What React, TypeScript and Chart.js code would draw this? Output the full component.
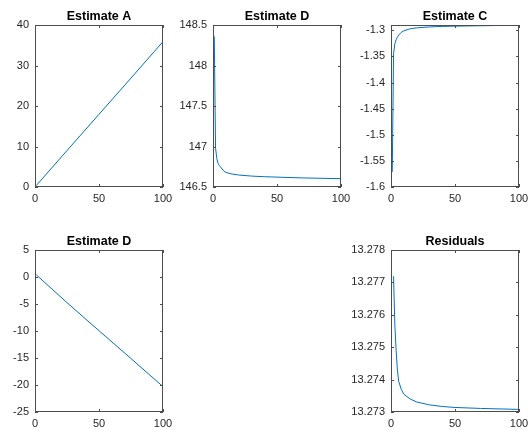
import React, { useEffect, useRef } from "react";
import { Chart, registerables } from "chart.js";

Chart.register(...registerables);

// ---------- data ----------
const xTicks = [0, 50, 100];

const titleA = "Estimate A";
const xA = [1, 25, 50, 75, 100];
const yA = [0.36, 9.0, 17.95, 26.9, 35.9];
const yTicksA = [0, 10, 20, 30, 40];

const titleD1 = "Estimate D";
const xD1 = [1, 2, 3, 4, 5, 6, 8, 10, 15, 20, 30, 40, 50, 70, 100];
const yD1 = [148.36, 146.98, 146.85, 146.79, 146.765, 146.745, 146.705, 146.68, 146.66, 146.648, 146.635, 146.627, 146.622, 146.612, 146.603];
const yTicksD1 = [146.5, 147, 147.5, 148, 148.5];

const titleC = "Estimate C";
const xC = [1, 2, 3, 4, 5, 6, 8, 10, 15, 20, 30, 40, 50, 70, 100];
const yC = [-1.571, -1.345, -1.326, -1.318, -1.313, -1.309, -1.304, -1.301, -1.297, -1.2953, -1.2935, -1.2925, -1.292, -1.2912, -1.2903];
const yTicksC = [-1.6, -1.55, -1.5, -1.45, -1.4, -1.35, -1.3];

const titleD2 = "Estimate D";
const xD2 = [1, 25, 50, 75, 100];
const yD2 = [0.4, -4.75, -9.95, -15.1, -20.3];
const yTicksD2 = [-25, -20, -15, -10, -5, 0, 5];

const titleR = "Residuals";
const xR = [2, 3, 4, 5, 6, 8, 10, 15, 20, 30, 40, 50, 70, 100];
const yR = [13.27719, 13.2757, 13.2749, 13.2743, 13.27395, 13.2737, 13.27355, 13.2734, 13.27331, 13.27322, 13.27317, 13.27314, 13.27311, 13.27308];
const yTicksR = [13.273, 13.274, 13.275, 13.276, 13.277, 13.278];

// ---------- layout ----------
const PADL = 60;
const PADT = 25;
const PADR = 16;
const PADB = 28;
const FONT = "'Liberation Sans', Arial, Helvetica, sans-serif";

type Panel = {
  title: string;
  x: number[];
  y: number[];
  yMin: number;
  yMax: number;
  yTicks: number[];
  left: number;
  top: number;
  w: number;
  h: number;
};

const panels: Panel[] = [
  { title: titleA, x: xA, y: yA, yMin: 0, yMax: 40, yTicks: yTicksA, left: 35, top: 25, w: 128, h: 162 },
  { title: titleD1, x: xD1, y: yD1, yMin: 146.5, yMax: 148.5, yTicks: yTicksD1, left: 213, top: 25, w: 128, h: 162 },
  { title: titleC, x: xC, y: yC, yMin: -1.6, yMax: -1.2898, yTicks: yTicksC, left: 391, top: 25, w: 128, h: 162 },
  { title: titleD2, x: xD2, y: yD2, yMin: -25, yMax: 5, yTicks: yTicksD2, left: 35, top: 250, w: 128, h: 162 },
  { title: titleR, x: xR, y: yR, yMin: 13.273, yMax: 13.278, yTicks: yTicksR, left: 391, top: 250, w: 128, h: 162 },
];

const fmt = (v: any) => String(Math.round(Number(v) * 1e6) / 1e6);

function boxPlugin(title: string) {
  return {
    id: "matlabBox",
    afterDraw(chart: any) {
      const { ctx, chartArea } = chart;
      const { left, right, top, bottom } = chartArea;
      const xs = chart.scales.x;
      const ys = chart.scales.y;
      ctx.save();
      ctx.strokeStyle = "#4d4d4d";
      ctx.lineWidth = 1;
      ctx.strokeRect(left + 0.5, top + 0.5, right - left - 1, bottom - top - 1);
      ctx.beginPath();
      const tl = 3;
      xs.ticks.forEach((t: any) => {
        const px = Math.round(xs.getPixelForValue(t.value)) + 0.5;
        ctx.moveTo(px, bottom);
        ctx.lineTo(px, bottom - tl);
        ctx.moveTo(px, top);
        ctx.lineTo(px, top + tl);
      });
      ys.ticks.forEach((t: any) => {
        const py = Math.round(ys.getPixelForValue(t.value)) + 0.5;
        ctx.moveTo(left, py);
        ctx.lineTo(left + tl, py);
        ctx.moveTo(right, py);
        ctx.lineTo(right - tl, py);
      });
      ctx.stroke();
      ctx.fillStyle = "#000000";
      ctx.font = `bold 12.5px ${FONT}`;
      ctx.textAlign = "center";
      ctx.textBaseline = "alphabetic";
      ctx.fillText(title, (left + right) / 2, top - 5);
      ctx.restore();
    },
  };
}

function PanelChart({ p }: { p: Panel }) {
  const ref = useRef<HTMLCanvasElement | null>(null);
  useEffect(() => {
    if (!ref.current) return;
    const tickFont = { family: FONT, size: 11 };
    const chart = new Chart(ref.current, {
      type: "line",
      data: {
        datasets: [
          {
            data: p.x.map((xv, i) => ({ x: xv, y: p.y[i] })),
            borderColor: "#0072BD",
            borderWidth: 1,
            pointRadius: 0,
            tension: 0,
            fill: false,
          },
        ],
      },
      options: {
        animation: false,
        responsive: false,
        events: [],
        layout: { padding: { left: 0, right: PADR, top: PADT, bottom: 0 } },
        plugins: {
          legend: { display: false },
          tooltip: { enabled: false },
          title: { display: false },
        },
        scales: {
          x: {
            type: "linear",
            min: 0,
            max: 100,
            afterBuildTicks: (s: any) => {
              s.ticks = xTicks.map((v) => ({ value: v }));
            },
            afterFit: (s: any) => {
              s.height = PADB;
            },
            grid: { display: false, drawTicks: false },
            border: { display: false },
            ticks: {
              padding: 5,
              font: tickFont,
              color: "#262626",
              maxRotation: 0,
              autoSkip: false,
              callback: fmt,
            },
          },
          y: {
            type: "linear",
            min: p.yMin,
            max: p.yMax,
            afterBuildTicks: (s: any) => {
              s.ticks = p.yTicks.map((v) => ({ value: v }));
            },
            afterFit: (s: any) => {
              s.width = PADL;
            },
            grid: { display: false, drawTicks: false },
            border: { display: false },
            ticks: {
              padding: 6,
              font: tickFont,
              color: "#262626",
              autoSkip: false,
              callback: fmt,
            },
          },
        },
      } as any,
      plugins: [boxPlugin(p.title)],
    });
    return () => chart.destroy();
  }, [p]);
  const cw = PADL + p.w + PADR;
  const ch = PADT + p.h + PADB;
  return (
    <canvas
      ref={ref}
      width={cw}
      height={ch}
      style={{
        position: "absolute",
        left: p.left - PADL,
        top: p.top - PADT,
        width: cw,
        height: ch,
      }}
    />
  );
}

export default function App() {
  return (
    <div
      style={{
        position: "fixed",
        left: 0,
        top: 0,
        width: 529,
        height: 429,
        background: "#ffffff",
        overflow: "hidden",
      }}
    >
      {panels.map((p, i) => (
        <PanelChart key={i} p={p} />
      ))}
    </div>
  );
}
